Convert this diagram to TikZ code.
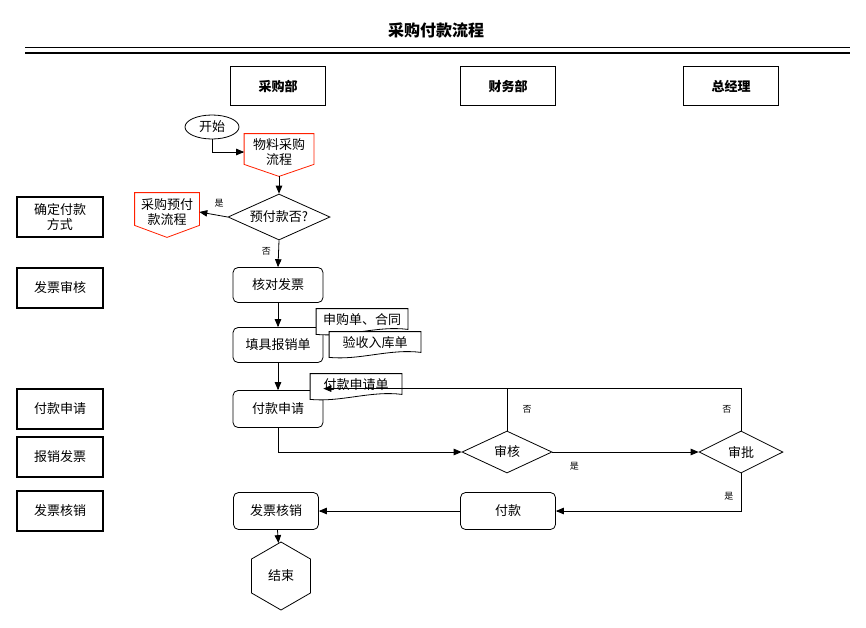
\documentclass[tikz,border=0pt]{standalone}
\usepackage{fontspec}
\setmainfont{Noto Sans CJK SC}
\usetikzlibrary{shapes.geometric,arrows,calc,positioning}
\colorlet{lcoff}{red!75!orange}

\begin{document}
\begin{tikzpicture}[%
    x=1pt, y=-1pt,
    >=triangle 45,
    every node/.style={font=\fontsize{13}{15}\selectfont},
    line width=0.8pt]
% -------------------------------------------------
% Box styles
\tikzset{
  base/.style={draw, align=center, inner sep=1pt},
  dept/.style={base, line width=1.4pt, minimum width=95, minimum height=39, font=\fontsize{13}{15}\selectfont\bfseries},
  side/.style={base, line width=1.4pt, minimum width=86, minimum height=40},
  proc/.style={base, rounded corners=5pt, minimum width=90, minimum height=35},
  test/.style={base, diamond, aspect=2.2, inner sep=0pt},
  offp/.style={align=center, inner sep=1pt, minimum width=64, minimum height=38},
  docu/.style={align=center, inner sep=1pt, minimum width=91, minimum height=22},
  norm/.style={->, draw},
  lbl/.style={font=\fontsize{9}{10}\selectfont}
}
\useasboundingbox (0,0) rectangle (866,627);
% -------------------------------------------------
% Title and header lines
\node [font=\fontsize{16}{18}\selectfont\bfseries] (title) at (436,30) {采购付款流程};
\draw [line width=0.6pt] (25,47) -- (850,47);
\draw [line width=2.4pt] (25,53) -- (850,53);

% Departments
\node [dept] (d1) at (278,86) {采购部};
\node [dept] (d2) at (508,86) {财务部};
\node [dept] (d3) at (731,86) {总经理};

% Left column
\node [side] (s1) at (60,217) {确定付款\\方式};
\node [side] (s2) at (60,288) {发票审核};
\node [side] (s3) at (60,409) {付款申请};
\node [side] (s4) at (60,457) {报销发票};
\node [side] (s5) at (60,511) {发票核销};

% -------------------------------------------------
% Main flow
\node [base, ellipse, minimum width=54, minimum height=24] (p0) at (212,127) {开始};
\node [offp, minimum width=69, minimum height=36] (p1) at (279,152) {物料采购\\流程};
\draw [lcoff] (p1.north west) -- (p1.north east) -- ($(p1.south east)+(0,-6)$)
  -- ($(p1.south)+(0,6)$) -- ($(p1.south west)+(0,-6)$) -- cycle;
\node [test, minimum width=102, minimum height=46] (t1) at (279,217) {预付款否?};
\node [offp] (p2) at (167,212) {采购预付\\款流程};
\draw [lcoff] (p2.north west) -- (p2.north east) -- ($(p2.south east)+(0,-6)$)
  -- ($(p2.south)+(0,6)$) -- ($(p2.south west)+(0,-6)$) -- cycle;
\node [proc] (p3) at (278,285) {核对发票};
\node [proc] (p4) at (278,345) {填具报销单};
\node [proc, minimum height=37] (p5) at (278,409) {付款申请};

% Documents
\node [docu] (q1) at (362,320) {申购单、合同};
\node [docu] (q2) at (375,343) {验收入库单};
\node [docu] (q3) at (356,385) {付款申请单};
\foreach \q in {q1,q2,q3}
  \draw [fill=white] (\q.north west) -- (\q.north east) -- ($(\q.south east)+(0,-2)$)
    .. controls ($(\q.south)+(15,-6)$) and ($(\q.south)+(-15,6)$) .. ($(\q.south west)+(0,3)$) -- cycle;
\node at (q1) {申购单、合同};
\node at (q2) {验收入库单};
\node at (q3) {付款申请单};

% Right part
\node [test, minimum width=90, minimum height=42] (t2) at (507,452) {审核};
\node [test, minimum width=84, minimum height=42] (t3) at (741,452) {审批};
\node [proc, minimum width=95, minimum height=37] (p6) at (508,511) {付款};
\node [proc, minimum width=85, minimum height=37] (p7) at (276,511) {发票核销};
\node [base, regular polygon, regular polygon sides=6, shape border rotate=90, minimum width=68, minimum height=42,
  inner sep=0pt, shape aspect=1] (p8) at (281,576) {};
\draw (p8.corner 1) ++(-17,-21);
\node (p8t) at (p8) {结束};

% -------------------------------------------------
% Connectors
\draw [norm] (p0.south) |- (p1.west);
\draw [norm] ($(p1.south)+(0,6)$) -- (t1.north);
\draw [norm] (t1.west) -- (p2.east) node [lbl, pos=0.3, above=5pt] {是};
\draw [norm] (t1.south) -- (p3.north) node [lbl, pos=0.4, left=4pt] {否};
\draw [norm] (p3) -- (p4);
\draw [norm] (p4) -- (p5);
\draw [norm] (p5.south) |- (t2.west);
\draw [norm] (t2.east) -- (t3.west) node [lbl, pos=0.15, below=7pt] {是};
\coordinate (c1) at ($(t2.north)+(0,-42)$);
\coordinate (c2) at ($(t3.north)+(0,-42)$);
\draw (t2.north) -- (c1) node [lbl, pos=0.5, right=12pt] {否};
\draw [norm] (t3.north) -- (c2) node [lbl, pos=0.5, left=6pt] {否} -- (p5.east |- c2);
\draw [norm] (t3.south) |- (p6.east) node [lbl, pos=0.3, left=4pt] {是};
\draw [norm] (p6) -- (p7);
\draw [norm] (p7) -- (p8);
\end{tikzpicture}
\end{document}
